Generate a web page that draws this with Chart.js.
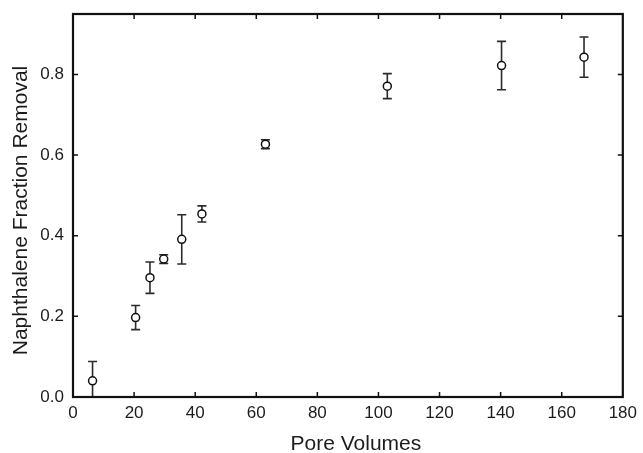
<!DOCTYPE html>
<html>
<head>
<meta charset="utf-8">
<script src="https://cdn.jsdelivr.net/npm/chart.js@4/dist/chart.umd.min.js"></script>
<style>
  html, body { margin: 0; padding: 0; background: #fff; }
  #wrap { width: 643px; height: 453px; }
</style>
</head>
<body>
<div id="wrap"><canvas id="removalChart" width="643" height="453"></canvas></div>
<script>
// pore volumes flushed vs. fraction of naphthalene removed, with +/- error
const poreVolumes = [6.4, 20.5, 25.2, 29.7, 35.6, 42.2, 63.0, 102.9, 140.3, 167.3];
const removal = [0.040, 0.197, 0.296, 0.342, 0.391, 0.454, 0.627, 0.771, 0.822, 0.843];
const removalErr = [0.048, 0.030, 0.039, 0.011, 0.061, 0.020, 0.011, 0.031, 0.060, 0.050];

const xTickLabels = ["0", "20", "40", "60", "80", "100", "120", "140", "160", "180"];
const yTickLabels = ["0.0", "0.2", "0.4", "0.6", "0.8"];
const xTitle = "Pore Volumes";
const yTitle = "Naphthalene Fraction Removal";

const fontFamily = "'Liberation Sans', Arial, Helvetica, sans-serif";
const inkColor = "#1c1c1c";

// vertical error bars with caps, drawn under the markers
const errorBars = {
  id: "errorBars",
  beforeDatasetsDraw(chart) {
    const { ctx, chartArea, scales: { x, y } } = chart;
    ctx.save();
    ctx.beginPath();
    ctx.rect(chartArea.left, chartArea.top, chartArea.width, chartArea.height);
    ctx.clip();
    ctx.strokeStyle = "#2a2a2a";
    ctx.lineWidth = 1.6;
    const cap = 4.5;
    poreVolumes.forEach((pv, i) => {
      const px = x.getPixelForValue(pv);
      const hi = y.getPixelForValue(removal[i] + removalErr[i]);
      const lo = y.getPixelForValue(removal[i] - removalErr[i]);
      ctx.beginPath();
      ctx.moveTo(px, hi);
      ctx.lineTo(px, lo);
      ctx.moveTo(px - cap, hi);
      ctx.lineTo(px + cap, hi);
      ctx.moveTo(px - cap, lo);
      ctx.lineTo(px + cap, lo);
      ctx.stroke();
    });
    ctx.restore();
  },
};

// box frame with inward ticks on all four sides, plus the axis titles
const frameTicks = {
  id: "frameTicks",
  afterDraw(chart) {
    const { ctx, chartArea: a, scales: { x, y } } = chart;
    const len = 5;
    ctx.save();
    ctx.strokeStyle = "#111";
    ctx.lineWidth = 1.5;
    ctx.beginPath();
    x.ticks.forEach((t) => {
      const px = x.getPixelForValue(t.value);
      if (px <= a.left + 1 || px >= a.right - 1) return;
      ctx.moveTo(px, a.bottom);
      ctx.lineTo(px, a.bottom - len);
      ctx.moveTo(px, a.top);
      ctx.lineTo(px, a.top + len);
    });
    y.ticks.forEach((t) => {
      const py = y.getPixelForValue(t.value);
      if (py >= a.bottom - 1 || py <= a.top + 1) return;
      ctx.moveTo(a.left, py);
      ctx.lineTo(a.left + len, py);
      ctx.moveTo(a.right, py);
      ctx.lineTo(a.right - len, py);
    });
    ctx.stroke();
    ctx.lineWidth = 2.2;
    ctx.strokeRect(a.left, a.top, a.width, a.height);

    ctx.fillStyle = inkColor;
    ctx.font = "21px " + fontFamily;
    ctx.textAlign = "center";
    ctx.textBaseline = "alphabetic";
    ctx.fillText(xTitle, (a.left + a.right) / 2 + 8, chart.height - 3);
    ctx.translate(27, (a.top + a.bottom) / 2 + 5);
    ctx.rotate(-Math.PI / 2);
    ctx.fillText(yTitle, 0, 0);
    ctx.restore();
  },
};

const ctx = document.getElementById("removalChart").getContext("2d");

const chart = new Chart(ctx, {
  type: "scatter",
  data: {
    datasets: [
      {
        label: "Naphthalene removal",
        data: poreVolumes.map((pv, i) => ({ x: pv, y: removal[i] })),
        pointStyle: "circle",
        pointRadius: 4,
        pointBackgroundColor: "#fff",
        pointBorderColor: "#111",
        pointBorderWidth: 1.5,
        showLine: false,
      },
    ],
  },
  options: {
    responsive: false,
    animation: false,
    devicePixelRatio: 1,
    layout: {
      padding: { left: 0, top: 14, right: 19, bottom: 0 },
    },
    plugins: {
      legend: { display: false },
      tooltip: { enabled: false },
    },
    scales: {
      x: {
        type: "linear",
        position: "bottom",
        min: 0,
        max: 180,
        afterFit: (s) => { s.height = 56; },
        grid: { display: false, drawTicks: false },
        border: { display: false },
        ticks: {
          stepSize: 20,
          padding: 6,
          color: inkColor,
          font: { family: fontFamily, size: 17 },
          maxRotation: 0,
          callback: (v) => xTickLabels[Math.round(v / 20)],
        },
      },
      y: {
        type: "linear",
        min: 0,
        max: 0.95,
        afterFit: (s) => { s.width = 73; },
        grid: { display: false, drawTicks: false },
        border: { display: false },
        ticks: {
          stepSize: 0.2,
          includeBounds: false,
          padding: 9,
          color: inkColor,
          font: { family: fontFamily, size: 17, lineHeight: 0.5 },
          callback: (v) => yTickLabels[Math.round(v / 0.2)],
        },
      },
    },
  },
  plugins: [errorBars, frameTicks],
});
</script>
</body>
</html>
